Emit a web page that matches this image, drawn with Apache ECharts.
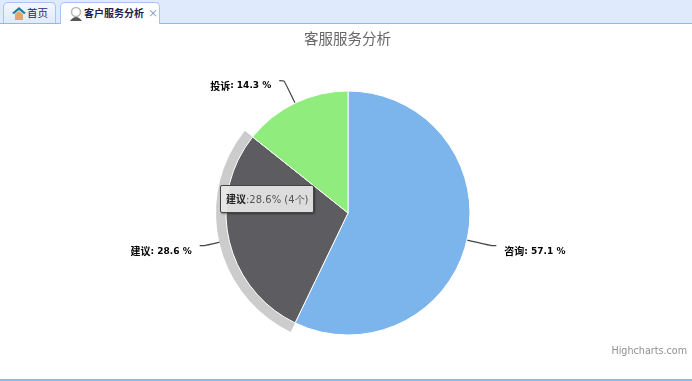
<!DOCTYPE html>
<html>
<head>
<meta charset="utf-8">
<script src="https://cdn.jsdelivr.net/npm/echarts@6/dist/echarts.min.js"></script>
<style>
  html, body { margin: 0; padding: 0; background: #fff; overflow: hidden; }
  #page { position: relative; width: 692px; height: 381px; font-family: "Noto Sans CJK SC", sans-serif; }
  #tabbar { position: absolute; left: 0; top: 0; width: 692px; height: 23px; background: #dfeafd; border-bottom: 1px solid #8fb8ee; }
  .tab { position: absolute; top: 2px; height: 21px; box-sizing: border-box; border: 1px solid #a6c6f0; border-bottom: none; border-radius: 5px 5px 0 0; font-size: 10.5px; line-height: 20px; color: #2a2a55; background: linear-gradient(#f3f7fe, #dfeafd); }
  .tab.active { height: 22px; background: #fff; font-weight: bold; color: #1d1d50; font-size: 10px; }
  .tab svg { position: absolute; top: 3px; left: 7px; }
  .tab span { position: absolute; white-space: nowrap; }
  #main { position: absolute; left: 0; top: 0; width: 692px; height: 381px; }
  #bottom { position: absolute; left: 0; top: 379px; width: 692px; height: 2px; background: #8fb8ee; }
</style>
</head>
<body>
<div id="page">
  <div id="main"></div>
  <div id="tabbar">
    <div class="tab" style="left:3px;width:53px">
      <svg width="16" height="15" viewBox="0 0 16 15"><path d="M8 1 L15 7 L13 8 L8 4 L3 8 L1 7 Z" fill="#1a7f9e"/><path d="M4 8 L8 5 L12 8 V14 H4 Z" fill="#e0a868"/></svg>
      <span style="left:23px;top:0">首页</span>
    </div>
    <div class="tab active" style="left:60px;width:100px">
      <svg width="16" height="16" viewBox="0 0 16 16"><circle cx="8" cy="6" r="4.5" fill="none" stroke="#bbb" stroke-width="1.6"/><path d="M2 15 Q8 7 14 15 Z" fill="#555"/></svg>
      <span style="left:23px;top:0">客户服务分析</span>
      <span style="left:87px;top:0;color:#6f88b5;font-weight:normal">×</span>
    </div>
  </div>
  <div id="bottom"></div>
</div>
<script>
const categories = ['咨询', '建议', '投诉']
const counts = [8, 4, 2]
const percents = [57.1, 28.6, 14.3]
const colors = ['#7cb5ec', '#5c5c61', '#90ed7d']
const hoverIndex = 1

const chart = echarts.init(document.getElementById('main'))

const pieData = categories.map((name, i) => ({ name, value: counts[i] }))

const option = {
  animation: false,
  title: {
    text: '客服服务分析',
    left: 299,
    top: 26,
    textStyle: { fontSize: 14.5, fontWeight: 'normal', color: '#666', fontFamily: '"Noto Sans CJK SC"' }
  },
  tooltip: {
    trigger: 'item',
    alwaysShowContent: true,
    transitionDuration: 0,
    position: [220, 185],
    padding: [4, 5],
    backgroundColor: 'rgba(232,232,232,0.92)',
    borderColor: '#444',
    borderWidth: 1,
    borderRadius: 2,
    extraCssText: 'box-shadow:1px 1px 2px rgba(0,0,0,0.4);line-height:17px;',
    textStyle: { fontSize: 10, color: '#555', fontFamily: '"DejaVu Sans"' },
    formatter: (p) => `<b style="color:#222;font-family:'Noto Sans CJK SC'">${p.name}</b>:${percents[p.dataIndex]}% (${p.value}个)`
  },
  graphic: [{
    type: 'text',
    right: 5,
    bottom: 25,
    style: { text: 'Highcharts.com', font: '9.6px "DejaVu Sans"', fill: '#909090' }
  }],
  series: [
    {
      // hover halo behind the highlighted slice
      type: 'pie',
      silent: true,
      tooltip: { show: false },
      center: [348, 213],
      radius: [0, 132],
      startAngle: 90,
      clockwise: true,
      label: { show: false },
      labelLine: { show: false },
      data: pieData.map((d, i) => ({
        ...d,
        itemStyle: { color: i === hoverIndex ? '#cccccc' : 'transparent' }
      }))
    },
    {
      type: 'pie',
      center: [348, 213],
      radius: [0, 122],
      startAngle: 90,
      clockwise: true,
      avoidLabelOverlap: false,
      color: colors,
      itemStyle: { borderColor: '#fff', borderWidth: 1 },
      emphasis: { disabled: true },
      label: {
        formatter: (p) => `{n|${p.name}}{v|: ${percents[p.dataIndex]} %}`,
        padding: [11, 0, 0, 0],
        distanceToLabelLine: 8,
        rich: {
          n: { fontSize: 10, fontWeight: 'bold', color: '#000', fontFamily: '"Noto Sans CJK SC"' },
          v: { fontSize: 9, fontWeight: 'bold', color: '#000', fontFamily: '"DejaVu Sans"' }
        }
      },
      labelLine: {
        length: 25,
        length2: 5,
        smooth: 0.2,
        lineStyle: { color: '#444', width: 1.2 }
      },
      data: pieData
    }
  ]
}

chart.setOption(option)
chart.dispatchAction({ type: 'showTip', seriesIndex: 1, dataIndex: hoverIndex })

window.addEventListener('resize', () => chart.resize())
</script>
</body>
</html>
